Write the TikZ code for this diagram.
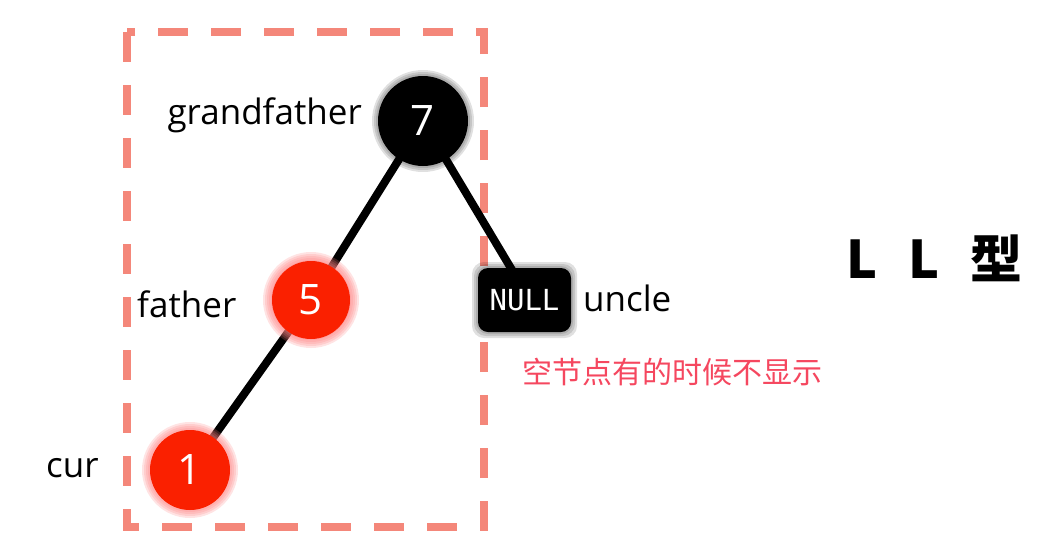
\documentclass[tikz,border=0pt]{standalone}
\usepackage{fontspec}
\setmainfont{Open Sans}
\newfontfamily\cjk{Noto Sans CJK SC}
\newfontfamily\monof{DejaVu Sans Mono}
\begin{document}
\begin{tikzpicture}[x=1pt,y=-1pt,
  lbl/.style={font=\fontsize{35}{38}\selectfont, text=black, inner sep=0pt},
  num/.style={font=\fontsize{42}{46}\selectfont, text=white, inner sep=0pt},
  edge/.style={line width=8pt, black},
  redglow/.style={fill=red!50!white, opacity=0.22},
  grayglow/.style={fill=black, opacity=0.12}]
\useasboundingbox (0,0) rectangle (1052,552);
\definecolor{boxred}{HTML}{F4877A}
\definecolor{nodered}{HTML}{FA2000}
\definecolor{txtred}{HTML}{F5475F}
% dashed box
\draw[boxred, line width=8pt, dash pattern=on 30pt off 23pt] (127,32) rectangle (484,527);
% edges
\coordinate (c7) at (423,121);
\coordinate (c5) at (311,300);
\coordinate (c1) at (190,470);
\draw[edge] (c7) -- (c5);
\draw[edge] (c5) -- (c1);
\draw[edge] (c7) -- (524,290);
% glows
\foreach \r in {47,49,51} \fill[grayglow] (c7) circle (\r);
\foreach \r in {40,42,44,46,48} { \fill[redglow] (c5) circle (\r); \fill[redglow] (c1) circle (\r); }
% NULL box
\foreach \d in {2,4,6} \fill[black, opacity=0.12, rounded corners=12pt] (478-\d,268-\d) rectangle (571+\d,332+\d);
\node[fill=black, rounded corners=10pt, minimum width=93pt, minimum height=64pt, inner sep=0pt,
      font=\monof\fontsize{29}{32}\selectfont, text=white] (null) at (524.5,300) {NULL};
% circles
\node[circle, fill=black, minimum size=90pt, inner sep=0pt, num] (n7) at (c7) {7};
\node[circle, fill=nodered, minimum size=78pt, inner sep=0pt, num] (n5) at (c5) {5};
\node[circle, fill=nodered, minimum size=80pt, inner sep=0pt, num] (n1) at (c1) {1};
% labels
\node[lbl, anchor=east] (gf) at (362,115) {grandfather};
\node[lbl, anchor=west] (fa) at (137,304) {father};
\node[lbl, anchor=west] (cu) at (46,468) {cur};
\node[lbl, anchor=west] (un) at (583,298) {uncle};
\node[font=\cjk\fontsize{30}{32}\selectfont, text=txtred, inner sep=0pt, anchor=west] (note) at (522,372) {空节点有的时候不显示};
\node[font=\cjk\bfseries\fontsize{52}{56}\selectfont, inner sep=0pt, anchor=west] (ll) at (846,258) {L\hspace{0.6em}L\hspace{0.6em}型};
\end{tikzpicture}
\end{document}
